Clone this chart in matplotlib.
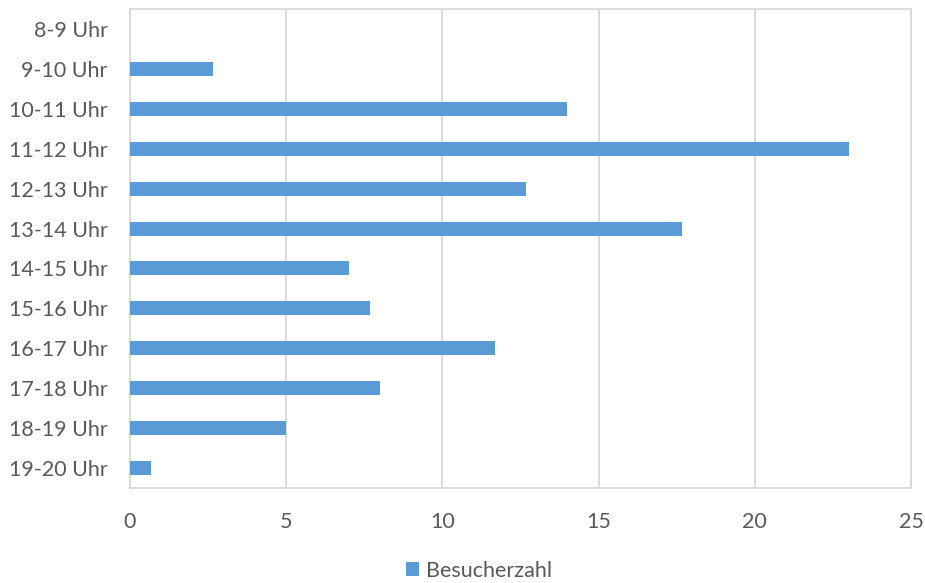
import matplotlib
matplotlib.use("Agg")
import matplotlib.pyplot as plt
from matplotlib.patches import Patch

categories = ["8-9 Uhr", "9-10 Uhr", "10-11 Uhr", "11-12 Uhr", "12-13 Uhr", "13-14 Uhr",
              "14-15 Uhr", "15-16 Uhr", "16-17 Uhr", "17-18 Uhr", "18-19 Uhr", "19-20 Uhr"]
values = [0, 2.67, 14, 23, 12.67, 17.67, 7, 7.67, 11.67, 8, 5, 0.67]
xticks = [0, 5, 10, 15, 20, 25]
series_name = "Besucherzahl"

plt.rcParams['font.family'] = ['Lato', 'DejaVu Sans']
bar_color = "#5b9bd5"
text_color = "#595959"
grid_color = "#d9d9d9"

fig = plt.figure(figsize=(9.25, 5.83), dpi=100)
ax = fig.add_axes([130/925, 95/583, 781/925, 479/583])
y = list(range(len(categories)))
ax.barh(y, values, height=0.35, color=bar_color, zorder=3)
ax.set_ylim(len(categories) - 0.5, -0.5)
ax.set_xlim(0, 25)
ax.set_xticks(xticks)
ax.set_xticklabels([str(t) for t in xticks])
ax.set_yticks(y)
ax.set_yticklabels(categories)
ax.tick_params(axis='both', length=0, labelsize=15.5, colors=text_color)
ax.tick_params(axis='x', pad=17)
ax.tick_params(axis='y', pad=16)
ax.grid(axis='x', color=grid_color, linewidth=1.3, zorder=0)
for s in ax.spines.values():
    s.set_color(grid_color)
    s.set_linewidth(1.3)

handles = [Patch(facecolor=bar_color, label=series_name)]
fig.legend(handles=handles, loc='center', bbox_to_anchor=(0.518, 0.021), frameon=False,
           fontsize=15.5, labelcolor=text_color, handlelength=0.6, handleheight=0.6,
           handletextpad=0.3)

fig.savefig("out.png", dpi=100)
